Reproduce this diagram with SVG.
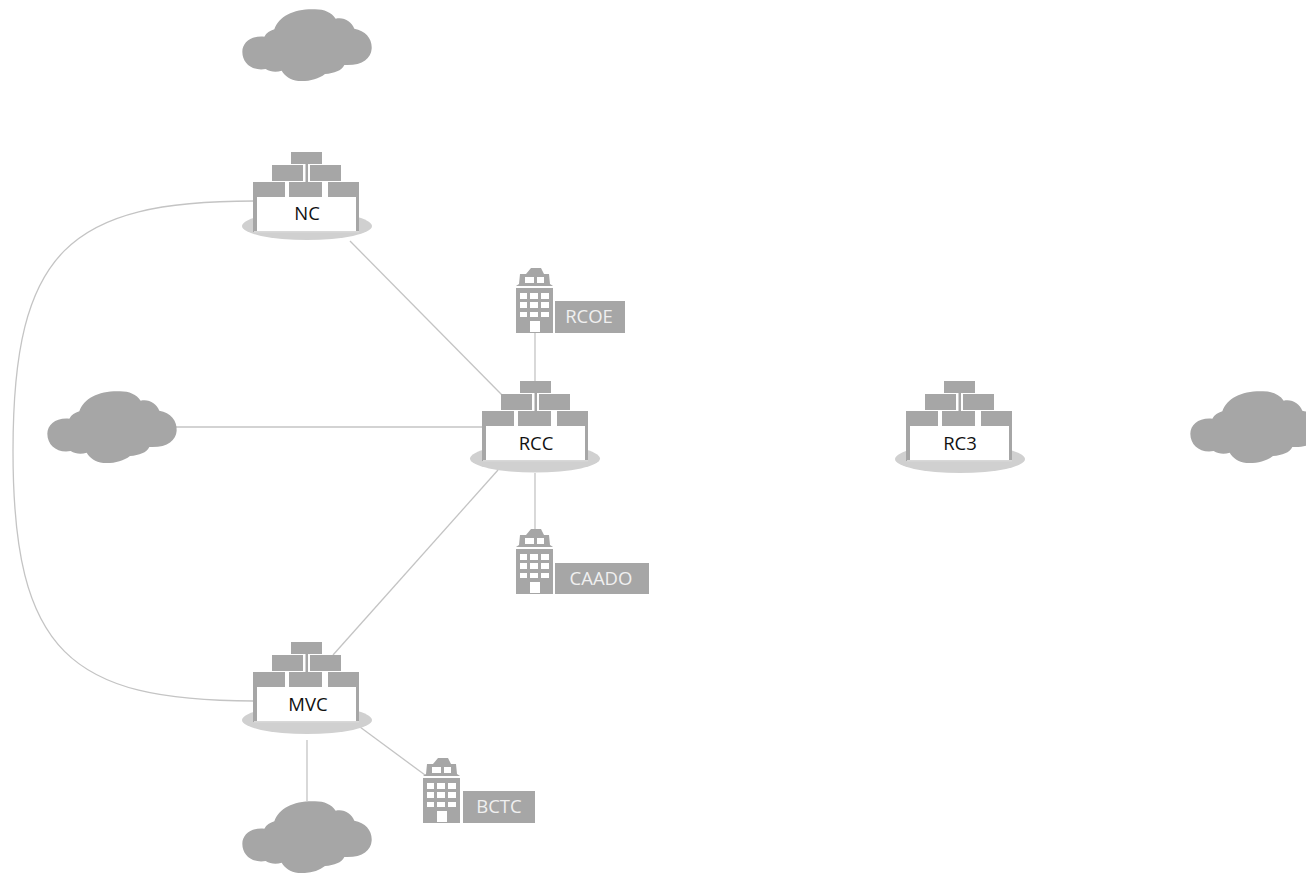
<svg xmlns="http://www.w3.org/2000/svg" width="1306" height="873" viewBox="0 0 1306 873">
<style>
.g{fill:#a6a6a6}
.w{fill:#fff}
.s{fill:#d0d0d0}
.c{fill:none;stroke:#c4c4c4;stroke-width:1.3}
.t{font-family:"Open Sans","Noto Sans",sans-serif;font-size:18.5px;text-anchor:middle}
.k{fill:#111}
.l{fill:#f0f0f0}
</style>
<defs>
<g id="server">
<rect class="g" x="291" y="152" width="31" height="12"/>
<rect class="g" x="305.500" y="164" width="2.500" height="18"/>
<rect class="g" x="272" y="165" width="31" height="16"/>
<rect class="g" x="310" y="165" width="31" height="16"/>
<rect class="g" x="253" y="182" width="32" height="50"/>
<rect class="g" x="289" y="182" width="33" height="50"/>
<rect class="g" x="328" y="182" width="31" height="50"/>
<rect x="257" y="197" width="99" height="34" fill="#fff"/>
<rect x="254" y="231" width="105" height="1.500" fill="#d8d8d8"/>
</g>
<g id="building">
<path class="g" d="M531 268H541L544 274H549L550 284L553 286H516L519 284L520 274H526Z"/>
<rect class="g" x="516" y="288" width="37" height="45"/>
<g class="w">
<rect x="525" y="277" width="9" height="6"/><rect x="537" y="277" width="7" height="6"/>
<rect x="520" y="293" width="7" height="6"/><rect x="530" y="293" width="8" height="6"/><rect x="541" y="293" width="8" height="6"/>
<rect x="520" y="302" width="7" height="6"/><rect x="530" y="302" width="8" height="6"/><rect x="541" y="302" width="8" height="6"/>
<rect x="520" y="312" width="7" height="5"/><rect x="530" y="312" width="8" height="5"/><rect x="541" y="312" width="8" height="5"/>
<rect x="530" y="321" width="10" height="11"/>
</g>
</g>
<path id="cloud" class="g" transform="translate(235 0) scale(.3333)" d="M22 155C22 128 48 106 88 110C94 98 105 92 118 88C132 48 178 26 240 28C268 28 290 38 302 56C326 50 350 64 358 86C392 92 412 116 410 146C408 176 380 198 328 195C320 212 298 220 270 222C250 238 220 245 190 243C165 240 150 228 140 212C122 218 106 215 92 207C52 214 22 190 22 155Z"/>
</defs>
<g id="connectors">
<path class="c" d="M254 201C70 201 13 250 13 451C13 652 70 701 254 701"/>
<path class="c" d="M350 241L502 395"/>
<path class="c" d="M175 427H483"/>
<path class="c" d="M535 333V381"/>
<path class="c" d="M535 473V530"/>
<path class="c" d="M498 470L333 655"/>
<path class="c" d="M360 727L425 775"/>
<path class="c" d="M307 740V801"/>
</g>
<g id="cloud-top"><use href="#cloud"/></g>
<g id="cloud-left"><use href="#cloud" x="-195" y="382"/></g>
<g id="cloud-bottom"><use href="#cloud" y="792"/></g>
<g id="cloud-right"><use href="#cloud" x="948" y="382"/></g>
<g id="node-nc"><ellipse class="s" cx="307" cy="226" rx="65" ry="14"/><use href="#server"/><text class="t k" x="307" y="220">NC</text></g>
<g id="node-rcc"><ellipse class="s" cx="535" cy="458.500" rx="65" ry="14"/><use href="#server" x="229" y="229"/><text class="t k" x="536" y="450">RCC</text></g>
<g id="node-rc3"><ellipse class="s" cx="960" cy="459" rx="65" ry="14"/><use href="#server" x="653" y="229"/><text class="t k" x="960" y="450">RC3</text></g>
<g id="node-mvc"><ellipse class="s" cx="307" cy="720" rx="65" ry="14"/><use href="#server" y="490"/><text class="t k" x="308" y="711">MVC</text></g>
<g id="node-rcoe"><use href="#building"/><rect class="g" x="555" y="301" width="70" height="32"/><text class="t l" x="589" y="323">RCOE</text></g>
<g id="node-caado"><use href="#building" y="261"/><rect class="g" x="555" y="563" width="94" height="31"/><text class="t l" x="601" y="585">CAADO</text></g>
<g id="node-bctc"><use href="#building" x="-93" y="490"/><rect class="g" x="463" y="791" width="72" height="32"/><text class="t l" x="499" y="813">BCTC</text></g>
</svg>
